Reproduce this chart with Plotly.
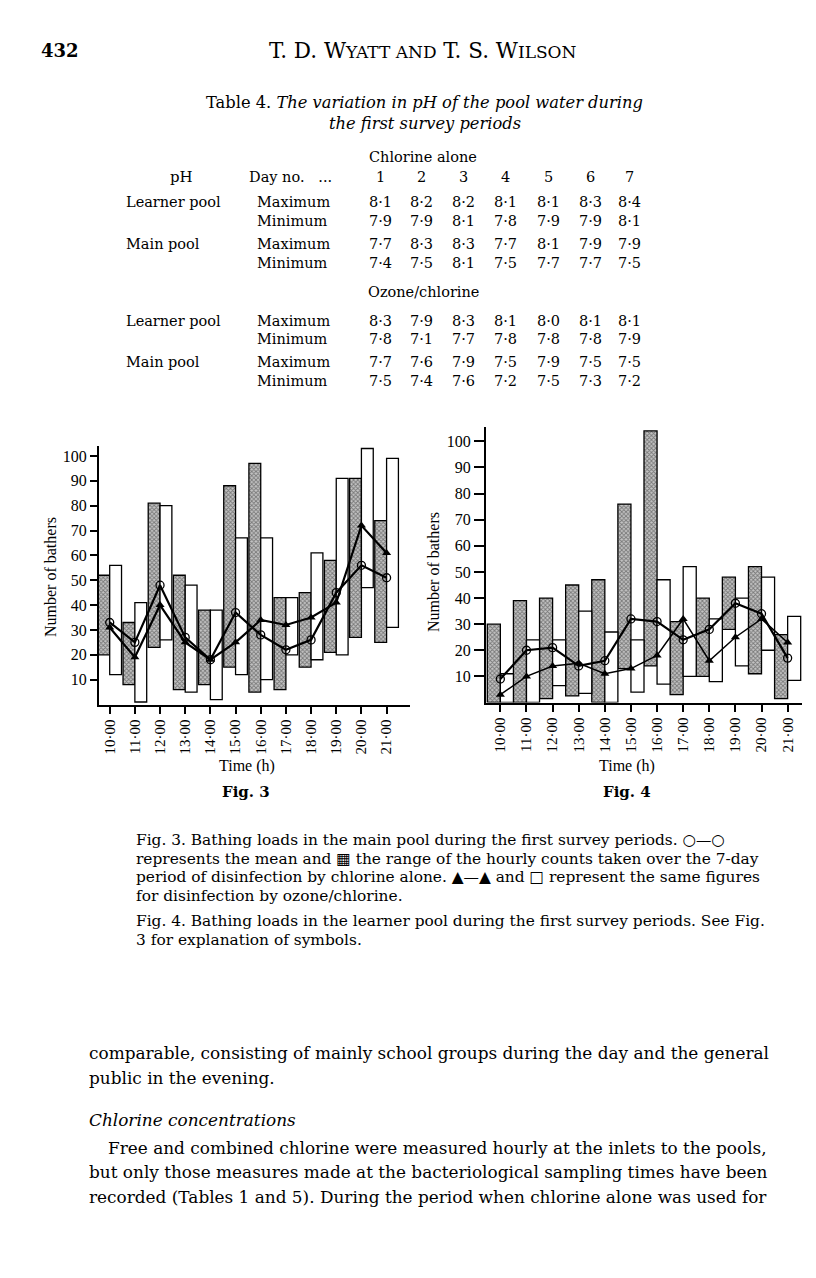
import plotly.graph_objects as go

W, H = 816, 1278

hours = list(range(10, 22))
hour_labels = ["10·00", "11·00", "12·00", "13·00", "14·00", "15·00",
               "16·00", "17·00", "18·00", "19·00", "20·00", "21·00"]

# Fig. 3 - main pool (range bars + hourly means)
main_cl_low = [20, 8, 23, 6, 8, 15, 5, 6, 15, 21, 27, 25]
main_cl_high = [52, 33, 81, 52, 38, 88, 97, 43, 45, 58, 91, 74]
main_oz_low = [12, 1, 26, 5, 2, 12, 10, 20, 18, 20, 47, 31]
main_oz_high = [56, 41, 80, 48, 38, 67, 67, 43, 61, 91, 103, 99]
main_cl_mean = [33, 25, 48, 27, 18, 37, 28, 22, 26, 45, 56, 51]
main_oz_mean = [31, 19, 40, 25, 18, 25, 34, 32, 35, 41, 72, 61]

# Fig. 4 - learner pool
learn_cl_low = [0, 0, 1.5, 2.5, 0, 13, 14, 3, 10, 28, 11, 1.5]
learn_cl_high = [30, 39, 40, 45, 47, 76, 104, 31, 40, 48, 52, 26]
learn_oz_low = [0, 0, 6.5, 3.5, 0, 4, 7, 10, 8, 14, 20, 8.5]
learn_oz_high = [11, 24, 24, 35, 27, 24, 47, 52, 32, 40, 48, 33]
learn_cl_mean = [9, 20, 21, 14, 16, 32, 31, 24, 28, 38, 34, 17]
learn_oz_mean = [3, 10, 14, 15, 11, 13, 18, 32, 16, 25, 32, 23]

y_ticks = [10, 20, 30, 40, 50, 60, 70, 80, 90, 100]

# Table 4 - pH values
days = ["1", "2", "3", "4", "5", "6", "7"]
cl_learner_max = ["8·1", "8·2", "8·2", "8·1", "8·1", "8·3", "8·4"]
cl_learner_min = ["7·9", "7·9", "8·1", "7·8", "7·9", "7·9", "8·1"]
cl_main_max = ["7·7", "8·3", "8·3", "7·7", "8·1", "7·9", "7·9"]
cl_main_min = ["7·4", "7·5", "8·1", "7·5", "7·7", "7·7", "7·5"]
oz_learner_max = ["8·3", "7·9", "8·3", "8·1", "8·0", "8·1", "8·1"]
oz_learner_min = ["7·8", "7·1", "7·7", "7·8", "7·8", "7·8", "7·9"]
oz_main_max = ["7·7", "7·6", "7·9", "7·5", "7·9", "7·5", "7·5"]
oz_main_min = ["7·5", "7·4", "7·6", "7·2", "7·5", "7·3", "7·2"]

SERIF = "DejaVu Serif"
TIMES = "Liberation Serif"


def px(x):
    return x / W


def py(y):
    return 1 - y / H


fig = go.Figure()


def add_panel(xa, ya, cl_low, cl_high, oz_low, oz_high, cl_mean, oz_mean, bw, tri_w):
    fig.add_trace(go.Bar(
        x=hours, y=[h - l for h, l in zip(cl_high, cl_low)], base=cl_low,
        width=bw, offset=-bw, xaxis=xa, yaxis=ya,
        marker=dict(color="#b8b8b8", line=dict(color="black", width=1.3),
                    pattern=dict(shape="x", size=3, solidity=0.5,
                                 fgcolor="#2a2a2a", bgcolor="#c4c4c4")),
        showlegend=False))
    fig.add_trace(go.Bar(
        x=hours, y=[h - l for h, l in zip(oz_high, oz_low)], base=oz_low,
        width=bw, offset=0, xaxis=xa, yaxis=ya,
        marker=dict(color="white", line=dict(color="black", width=1.3)),
        showlegend=False))
    fig.add_trace(go.Scatter(
        x=hours, y=cl_mean, mode="lines+markers", xaxis=xa, yaxis=ya,
        line=dict(color="black", width=2.2),
        marker=dict(symbol="circle-open", size=8, color="black", line=dict(width=1.3)),
        showlegend=False))
    fig.add_trace(go.Scatter(
        x=hours, y=oz_mean, mode="lines+markers", xaxis=xa, yaxis=ya,
        line=dict(color="black", width=tri_w),
        marker=dict(symbol="triangle-up", size=8, color="black"),
        showlegend=False))


add_panel("x", "y", main_cl_low, main_cl_high, main_oz_low, main_oz_high,
          main_cl_mean, main_oz_mean, 0.47, 2.2)
add_panel("x2", "y2", learn_cl_low, learn_cl_high, learn_oz_low, learn_oz_high,
          learn_cl_mean, learn_oz_mean, 0.5, 1.5)

xcommon = dict(tickvals=hours, ticktext=hour_labels, tickangle=-90,
               ticks="outside", ticklen=7, tickwidth=1.5, tickcolor="black",
               showline=True, linecolor="black", linewidth=2,
               showgrid=False, zeroline=False,
               tickfont=dict(family=TIMES, size=15, color="black"))
ycommon = dict(tickvals=y_ticks, ticks="outside", tickwidth=1.5, tickcolor="black",
               showline=True, linecolor="black", linewidth=2,
               showgrid=False, zeroline=False,
               tickfont=dict(family=TIMES, size=16, color="black"))

fig.update_layout(
    width=W, height=H,
    margin=dict(l=0, r=0, t=0, b=0),
    paper_bgcolor="white", plot_bgcolor="white",
    barmode="overlay",
    xaxis=dict(domain=[px(99), px(410)], range=[9.575, 21.93], anchor="y", **xcommon),
    yaxis=dict(domain=[py(704.5), py(446)], range=[0, 104], anchor="x", ticklen=7, **ycommon),
    xaxis2=dict(domain=[px(486), px(802)], range=[9.45, 21.55], anchor="y2", **xcommon),
    yaxis2=dict(domain=[py(702.5), py(427)], range=[0, 105.5], anchor="x2", ticklen=10, **ycommon),
)


def txt(x, y, s, size=14, anchor="left", family=SERIF, angle=0):
    fig.add_annotation(x=px(x), y=py(y), xref="paper", yref="paper", text=s,
                       showarrow=False, xanchor=anchor, yanchor="middle",
                       textangle=angle, borderpad=0,
                       font=dict(family=family, size=size, color="black"))


# page header
txt(40, 50, "<b>432</b>", 18)
txt(423, 50, "T. D. W<span style='font-size:17px'>YATT AND</span> T. S. "
             "W<span style='font-size:17px'>ILSON</span>", 21.5, "center")

# table title
txt(424, 103, "Table 4. <i>The variation in pH of the pool water during</i>", 16.3, "center")
txt(425, 124, "<i>the first survey periods</i>", 16.3, "center")

# table body
col_x = [380, 421, 463, 505, 548, 590, 629]
txt(423, 157, "Chlorine alone", 14.5, "center")
txt(181, 177, "pH", 15, "center")
txt(248, 177, "Day no.   ...", 14.5)
for cx, d in zip(col_x, days):
    txt(cx, 177, d, 14.5, "center")
txt(423, 292, "Ozone/chlorine", 14.5, "center")

rows = [
    (202, "Learner pool", "Maximum", cl_learner_max),
    (221, "", "Minimum", cl_learner_min),
    (244, "Main pool", "Maximum", cl_main_max),
    (263, "", "Minimum", cl_main_min),
    (321, "Learner pool", "Maximum", oz_learner_max),
    (339, "", "Minimum", oz_learner_min),
    (362, "Main pool", "Maximum", oz_main_max),
    (381, "", "Minimum", oz_main_min),
]
for ry, pool, kind, vals in rows:
    if pool:
        txt(125, ry, pool, 14.5)
    txt(256, ry, kind, 14.5)
    for cx, v in zip(col_x, vals):
        txt(cx, ry, v, 14.5, "center")

# chart labels
txt(50, 577, "Number of bathers", 16, "center", TIMES, -90)
txt(433, 572, "Number of bathers", 16, "center", TIMES, -90)
txt(247, 766, "Time (h)", 16, "center", TIMES)
txt(627, 766, "Time (h)", 16, "center", TIMES)
txt(246, 792, "<b>Fig. 3</b>", 15, "center")
txt(627, 792, "<b>Fig. 4</b>", 15, "center")

# captions
cap = [
    (840, "Fig. 3. Bathing loads in the main pool during the first survey periods. ○—○"),
    (859, "represents the mean and ▦ the range of the hourly counts taken over the 7-day"),
    (877, "period of disinfection by chlorine alone. ▲—▲ and □ represent the same figures"),
    (896, "for disinfection by ozone/chlorine."),
    (921, "Fig. 4. Bathing loads in the learner pool during the first survey periods. See Fig."),
    (940, "3 for explanation of symbols."),
]
for cy, s in cap:
    txt(135, cy, s, 15.4)

# body text
body = [
    (1053, 88, "comparable, consisting of mainly school groups during the day and the general"),
    (1078, 88, "public in the evening."),
    (1120, 88, "<i>Chlorine concentrations</i>"),
    (1148, 107, "Free and combined chlorine were measured hourly at the inlets to the pools,"),
    (1172, 88, "but only those measures made at the bacteriological sampling times have been"),
    (1197, 88, "recorded (Tables 1 and 5). During the period when chlorine alone was used for"),
]
for by, bx, s in body:
    txt(bx, by, s, 16.9)

fig.write_html("out.html", config={"displayModeBar": False},
               post_script="document.body.style.margin='0';")
